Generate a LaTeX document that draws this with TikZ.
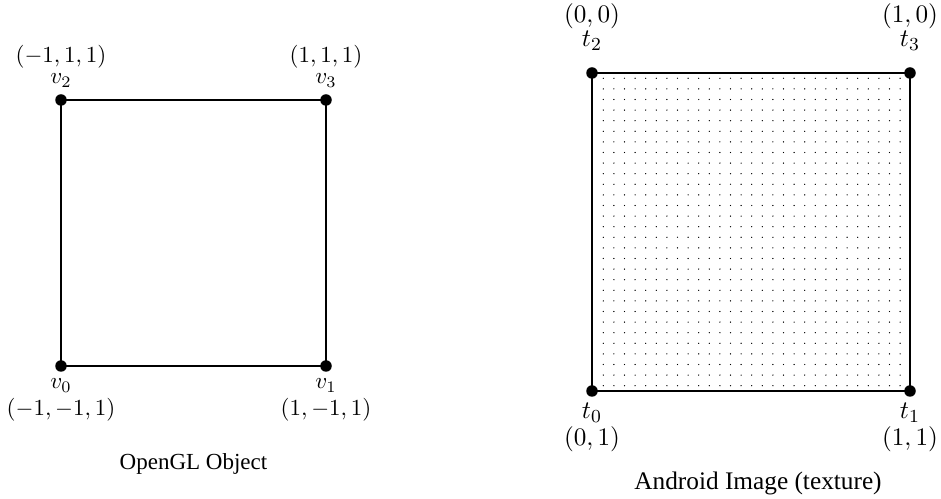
\documentclass[tikz,border=0pt]{standalone}
\usepackage{fontspec}
\setmainfont{Liberation Serif}
\begin{document}
\begin{tikzpicture}[x=0.4348pt,y=-0.4348pt,
  edge/.style={line width=1.2pt},
  vdot/.style={circle,fill=black,inner sep=0pt,minimum size=5pt},
  lbl/.style={anchor=base,inner sep=0pt,font=\fontsize{10.3}{12}\selectfont},
  rlbl/.style={anchor=base,inner sep=0pt,font=\fontsize{11.1}{13}\selectfont},
  captxt/.style={anchor=base,inner sep=0pt,font=\fontsize{10}{12}\selectfont}]
\useasboundingbox (0,0) rectangle (941,499);
% texture dots
\foreach \i in {0,...,28}{
  \foreach \j in {0,...,29}{
    \fill (603.3+10.6*\i,78.3+10.6*\j) circle (0.3pt);
  }
}
% left square
\node[vdot] (v0) at (61,366) {};
\node[vdot] (v1) at (326,366) {};
\node[vdot] (v2) at (61,100) {};
\node[vdot] (v3) at (326,100) {};
\draw[edge] (v0.center) -- (v1.center) -- (v3.center) -- (v2.center) -- cycle;
% right square
\node[vdot] (t0) at (592,391) {};
\node[vdot] (t1) at (910,391) {};
\node[vdot] (t2) at (592,73) {};
\node[vdot] (t3) at (910,73) {};
\draw[edge] (t0.center) -- (t1.center) -- (t3.center) -- (t2.center) -- cycle;
% left labels
\node[lbl] (lv2) at (61,84) {$v_2$};
\node[lbl] (lc2) at (61,63) {$(-1,1,1)$};
\node[lbl] (lv3) at (326,84) {$v_3$};
\node[lbl] (lc3) at (326,63) {$(1,1,1)$};
\node[lbl] (lv0) at (61,389) {$v_0$};
\node[lbl] (lc0) at (61,416) {$(-1,-1,1)$};
\node[lbl] (lv1) at (326,389) {$v_1$};
\node[lbl] (lc1) at (326,416) {$(1,-1,1)$};
% right labels
\node[rlbl] (lt2) at (592,47) {$t_2$};
\node[rlbl] (lk2) at (592,23) {$(0,0)$};
\node[rlbl] (lt3) at (910,47) {$t_3$};
\node[rlbl] (lk3) at (910,23) {$(1,0)$};
\node[rlbl] (lt0) at (592,419) {$t_0$};
\node[rlbl] (lk0) at (592,446) {$(0,1)$};
\node[rlbl] (lt1) at (910,419) {$t_1$};
\node[rlbl] (lk1) at (910,446) {$(1,1)$};
% captions
\node[captxt] (c1) at (193.5,470) {OpenGL Object};
\node[captxt,font=\fontsize{11}{13}\selectfont] (c2) at (758,490) {Android Image (texture)};
\end{tikzpicture}
\end{document}
